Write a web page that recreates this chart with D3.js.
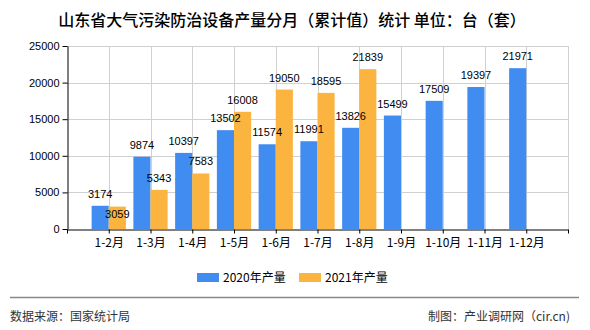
<!DOCTYPE html>
<html>
<head>
<meta charset="utf-8">
<script src="https://cdn.jsdelivr.net/npm/d3@7"></script>
<style>
  html, body { margin: 0; padding: 0; background: #fff; }
  svg { display: block; }
</style>
</head>
<body>
<svg id="chart" width="590" height="330"></svg>
<script>
// Monthly cumulative output, Shandong air pollution control equipment
const categories = ["1-2月", "1-3月", "1-4月", "1-5月", "1-6月", "1-7月", "1-8月", "1-9月", "1-10月", "1-11月", "1-12月"];
const series2020 = [3174, 9874, 10397, 13502, 11574, 11991, 13826, 15499, 17509, 19397, 21971];
const series2021 = [3059, 5343, 7583, 16008, 19050, 18595, 21839, null, null, null, null];
const seriesNames = ["2020年产量", "2021年产量"];
const yTicks = [0, 5000, 10000, 15000, 20000, 25000];

const colors = ["#418CF0", "#FCB441"];
const cjk = "'Noto Sans CJK SC', 'Liberation Sans', sans-serif";
const num = "'Liberation Sans', Arial, sans-serif";

const svg = d3.select("#chart");
const plotL = 67, plotR = 568, plotT = 46, plotB = 229;

// category i sits on slot boundary i+1; one empty slot on each side
const x = d3.scaleLinear().domain([-1, categories.length]).range([plotL, plotR]);
const y = d3.scaleLinear().domain([0, 25000]).range([plotB, plotT]);
const step = x(1) - x(0);
const bw = step * 0.41;

// title
svg.append("text")
  .attr("x", 292).attr("y", 26)
  .attr("text-anchor", "middle")
  .attr("font-family", cjk).attr("font-size", 16).attr("font-weight", 500)
  .attr("fill", "#000")
  .text("山东省大气污染防治设备产量分月（累计值）统计 单位：台（套）");

// grid
const grid = svg.append("g").attr("stroke", "#d0d0d0").attr("stroke-width", 1);
yTicks.filter(t => t > 0).forEach(t => {
  grid.append("line").attr("x1", plotL).attr("x2", plotR)
    .attr("y1", Math.round(y(t)) + 0.5).attr("y2", Math.round(y(t)) + 0.5);
});
d3.range(0, categories.length + 1).forEach(i => {
  grid.append("line").attr("y1", plotT).attr("y2", plotB)
    .attr("x1", Math.round(x(i)) + 0.5).attr("x2", Math.round(x(i)) + 0.5);
});

// bars
const data = categories.map((c, i) => ({ i, c, a: series2020[i], b: series2021[i] }));
const bars = svg.append("g");
bars.selectAll("rect.a").data(data).join("rect")
  .attr("x", d => x(d.i) - bw).attr("width", bw)
  .attr("y", d => y(d.a)).attr("height", d => y(0) - y(d.a))
  .attr("fill", colors[0]);
bars.selectAll("rect.b").data(data.filter(d => d.b != null)).join("rect")
  .attr("x", d => x(d.i)).attr("width", bw)
  .attr("y", d => y(d.b)).attr("height", d => y(0) - y(d.b))
  .attr("fill", colors[1]);

// value labels; a label that would collide with its neighbour drops below the bar top
const labels = svg.append("g").attr("font-family", num).attr("font-size", 11).attr("fill", "#000")
  .attr("text-anchor", "middle");
data.forEach(d => {
  const ya = y(d.a) - 8;
  labels.append("text").attr("x", x(d.i) - bw / 2).attr("y", ya).text(d.a);
  if (d.b != null) {
    let yb = y(d.b) - 8;
    if (Math.abs(yb - ya) < 12) yb = y(d.b) + 11;
    labels.append("text").attr("x", x(d.i) + bw / 2).attr("y", yb).text(d.b);
  }
});

// axes
const yAxis = svg.append("g").attr("transform", `translate(${plotL + 0.5},0)`)
  .call(d3.axisLeft(y).tickValues(yTicks).tickFormat(d3.format("d"))
    .tickSize(5).tickSizeOuter(0).tickPadding(3));
yAxis.select(".domain").attr("stroke", "#000");
yAxis.selectAll(".tick line").attr("stroke", "#000");
yAxis.selectAll(".tick text").attr("font-family", num).attr("font-size", 11).attr("fill", "#000");

const xAxis = svg.append("g").attr("transform", `translate(0,${plotB + 0.5})`)
  .call(d3.axisBottom(x).tickValues(d3.range(-1, categories.length + 1))
    .tickSize(4).tickSizeOuter(0).tickPadding(5)
    .tickFormat(i => categories[i] || ""));
xAxis.select(".domain").attr("stroke", "#000");
xAxis.selectAll(".tick line").attr("stroke", "#000");
xAxis.selectAll(".tick text").attr("font-family", cjk).attr("font-size", 12).attr("fill", "#000");

// legend
const lg = svg.append("g");
[[197, 223], [299, 325]].forEach(([sx, tx], k) => {
  lg.append("rect").attr("x", sx).attr("y", 273).attr("width", 22).attr("height", 9).attr("fill", colors[k]);
  lg.append("text").attr("x", tx).attr("y", 282)
    .attr("font-family", cjk).attr("font-size", 12).attr("fill", "#000").text(seriesNames[k]);
});

// footer
svg.append("line").attr("x1", 10).attr("x2", 579).attr("y1", 297.5).attr("y2", 297.5)
  .attr("stroke", "#888").attr("stroke-width", 1.5);
svg.append("text").attr("x", 10).attr("y", 321)
  .attr("font-family", cjk).attr("font-size", 12).attr("fill", "#333").text("数据来源：国家统计局");
svg.append("text").attr("x", 570).attr("y", 321).attr("text-anchor", "end")
  .attr("font-family", cjk).attr("font-size", 12).attr("fill", "#333").text("制图：产业调研网（cir.cn)");
</script>
</body>
</html>
